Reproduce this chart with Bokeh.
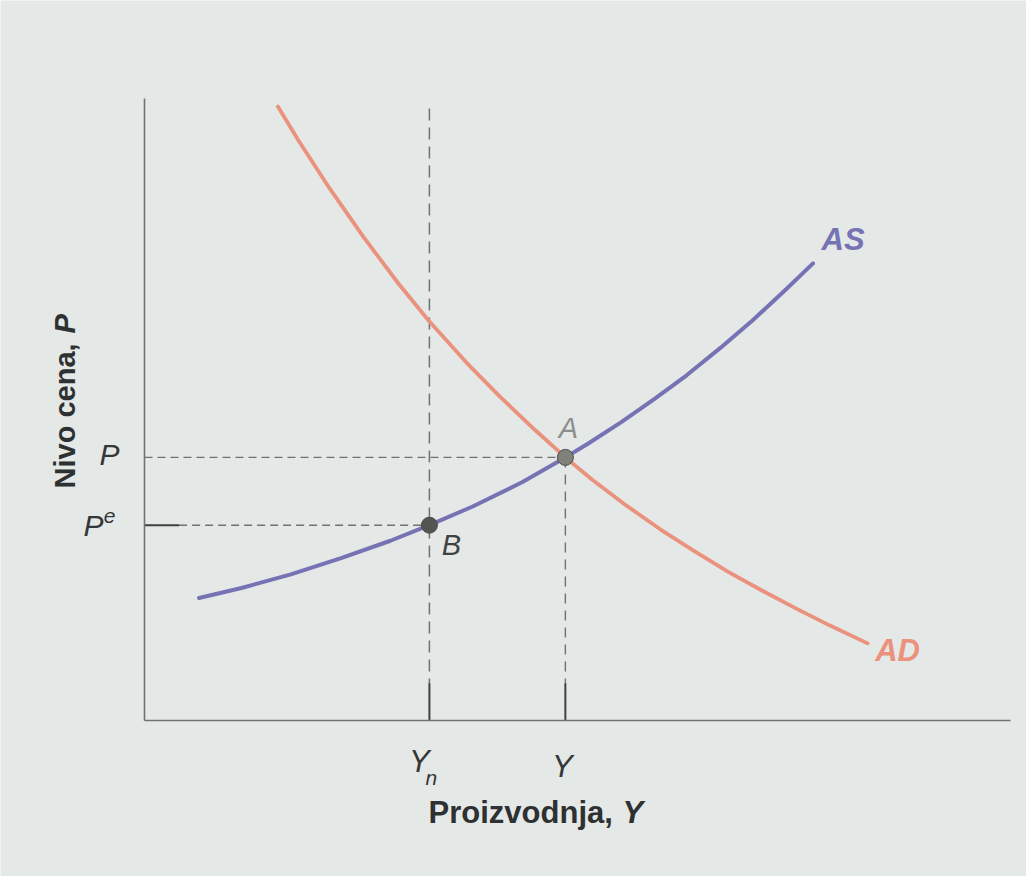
import math
from bokeh.plotting import figure
from bokeh.models import Label, Range1d, FixedTicker, ColumnDataSource
from bokeh.embed import file_html
from bokeh.resources import INLINE

# ---------------- data ----------------
as_x = [0.63, 1.12, 1.69, 2.27, 2.84, 3.29, 3.79, 4.36, 4.86, 5.12, 5.51, 5.89, 6.26, 6.65, 7.02, 7.40, 7.72]
as_y = [1.97, 2.13, 2.35, 2.61, 2.89, 3.14, 3.44, 3.83, 4.23, 4.45, 4.80, 5.17, 5.55, 5.99, 6.43, 6.92, 7.35]

ad_x = [1.54, 1.78, 2.14, 2.53, 2.93, 3.28, 3.72, 4.11, 4.51, 4.86, 5.17, 5.57, 5.96, 6.34, 6.74, 7.13, 7.51, 7.91, 8.35]
ad_y = [9.87, 9.32, 8.55, 7.77, 7.03, 6.43, 5.75, 5.20, 4.67, 4.23, 3.87, 3.45, 3.07, 2.73, 2.39, 2.09, 1.81, 1.53, 1.24]

Yn = 3.29      # natural output
Y_eq = 4.86    # output at A
P_eq = 4.23    # price level at A
Pe = 3.14      # expected price level (B)

point_names = ["A", "B"]
point_x = [Y_eq, Yn]
point_y = [P_eq, Pe]

AXIS_MAX_X = 10.0
AXIS_MAX_Y = 10.0

FONT = "Liberation Sans"
BG = "#e4e8e7"
AS_COL = "#7772b3"
AD_COL = "#ea927d"
DASH_COL = "#6e7271"
TXT = "#2e3131"
TICK_TXT = "#343737"

W, H = 1026, 876
PX_X, PX_Y = 86.6, 62.2          # pixels per data unit
X0_PX, Y0_PX = 144, 720          # where the origin sits on the page

p = figure(width=W, height=H,
           x_range=Range1d(-X0_PX / PX_X, (W - X0_PX) / PX_X),
           y_range=Range1d((Y0_PX - H) / PX_Y, Y0_PX / PX_Y),
           output_backend="svg", toolbar_location=None,
           min_border=0, min_border_left=0, min_border_right=0,
           min_border_top=0, min_border_bottom=0)
p.background_fill_color = BG
p.border_fill_color = BG
p.outline_line_color = None
p.xgrid.visible = False
p.ygrid.visible = False
for ax, bnd in ((p.xaxis[0], (0, AXIS_MAX_X)), (p.yaxis[0], (0, AXIS_MAX_Y))):
    ax.ticker = FixedTicker(ticks=[])
    ax.fixed_location = 0
    ax.bounds = bnd
    ax.axis_line_color = "#6f7372"
    ax.axis_line_width = 1.6
    ax.major_tick_out = 0
    ax.major_tick_in = 0
    ax.minor_tick_out = 0
    ax.minor_tick_in = 0
    ax.major_label_text_font_size = "0px"
    ax.major_label_standoff = 0
    ax.axis_label = None

# dashed guide lines
p.segment(x0=[0], y0=[P_eq], x1=[Y_eq], y1=[P_eq], line_color=DASH_COL, line_width=1.4, line_dash="8 5")
p.segment(x0=[0.40], y0=[Pe], x1=[Yn], y1=[Pe], line_color=DASH_COL, line_width=1.4, line_dash="8 5")
p.segment(x0=[Yn], y0=[9.84], x1=[Yn], y1=[0.6], line_color=DASH_COL, line_width=1.5, line_dash="12 7")
p.segment(x0=[Y_eq], y0=[P_eq], x1=[Y_eq], y1=[0.6], line_color=DASH_COL, line_width=1.4, line_dash="10 7")
# solid tick pieces
p.segment(x0=[0], y0=[Pe], x1=[0.40], y1=[Pe], line_color="#3d4040", line_width=2)
p.segment(x0=[Yn, Y_eq], y0=[0.6, 0.6], x1=[Yn, Y_eq], y1=[0, 0], line_color="#3d4040", line_width=2)

# curves
p.line(ad_x, ad_y, line_color=AD_COL, line_width=3.8, line_cap="round", line_join="round")
p.line(as_x, as_y, line_color=AS_COL, line_width=4, line_cap="round", line_join="round")

# equilibrium points
src = ColumnDataSource(dict(x=point_x, y=point_y, name=point_names, c=["#80817b", "#525552"]))
p.scatter("x", "y", source=src, size=16, fill_color="c", line_color="#4a4c4a", line_width=1)

def lab(x, y, text, size, color=TXT, style="italic", align="center", baseline="middle",
        xo=0, yo=0, angle=0.0):
    p.add_layout(Label(x=x, y=y, text=text, x_offset=xo, y_offset=yo,
                       text_font=FONT, text_font_size=f"{size}px", text_font_style=style,
                       text_color=color, text_align=align, text_baseline=baseline, angle=angle))

# point labels
lab(Y_eq, P_eq + 0.47, "A", 29, color="#8c8f8c", xo=3)
lab(Yn, Pe - 0.32, "B", 29, color="#3f4242", xo=22)

# curve labels
lab(as_x[-1], as_y[-1] + 0.39, "AS", 31, color=AS_COL, style="bold italic", xo=30)
lab(ad_x[-1], ad_y[-1] - 0.12, "AD", 31, color=AD_COL, style="bold italic", xo=30)

# x tick labels
lab(Yn, -0.66, "Y", 31, color=TICK_TXT, xo=-10)
lab(Yn, -0.92, "n", 21, color=TICK_TXT, xo=2)
lab(Y_eq, -0.74, "Y", 31, color=TICK_TXT, xo=-3)

# y tick labels
lab(0, P_eq + 0.04, "P", 30, color=TICK_TXT, xo=-35)
lab(0, Pe, "P", 30, color=TICK_TXT, xo=-51)
lab(0, Pe + 0.14, "e", 21, color=TICK_TXT, xo=-35)

# axis titles
lab(3.28, -1.48, "Proizvodnja,", 31, style="bold", align="left")
lab(5.52, -1.48, "Y", 31, style="bold italic", align="left")
lab(-0.92, 3.73, "Nivo cena,", 29, style="bold", align="left", angle=math.pi / 2)
lab(-0.92, 6.22, "P", 29, style="bold italic", align="left", angle=math.pi / 2)

open("out.html", "w").write(file_html(p, INLINE))
